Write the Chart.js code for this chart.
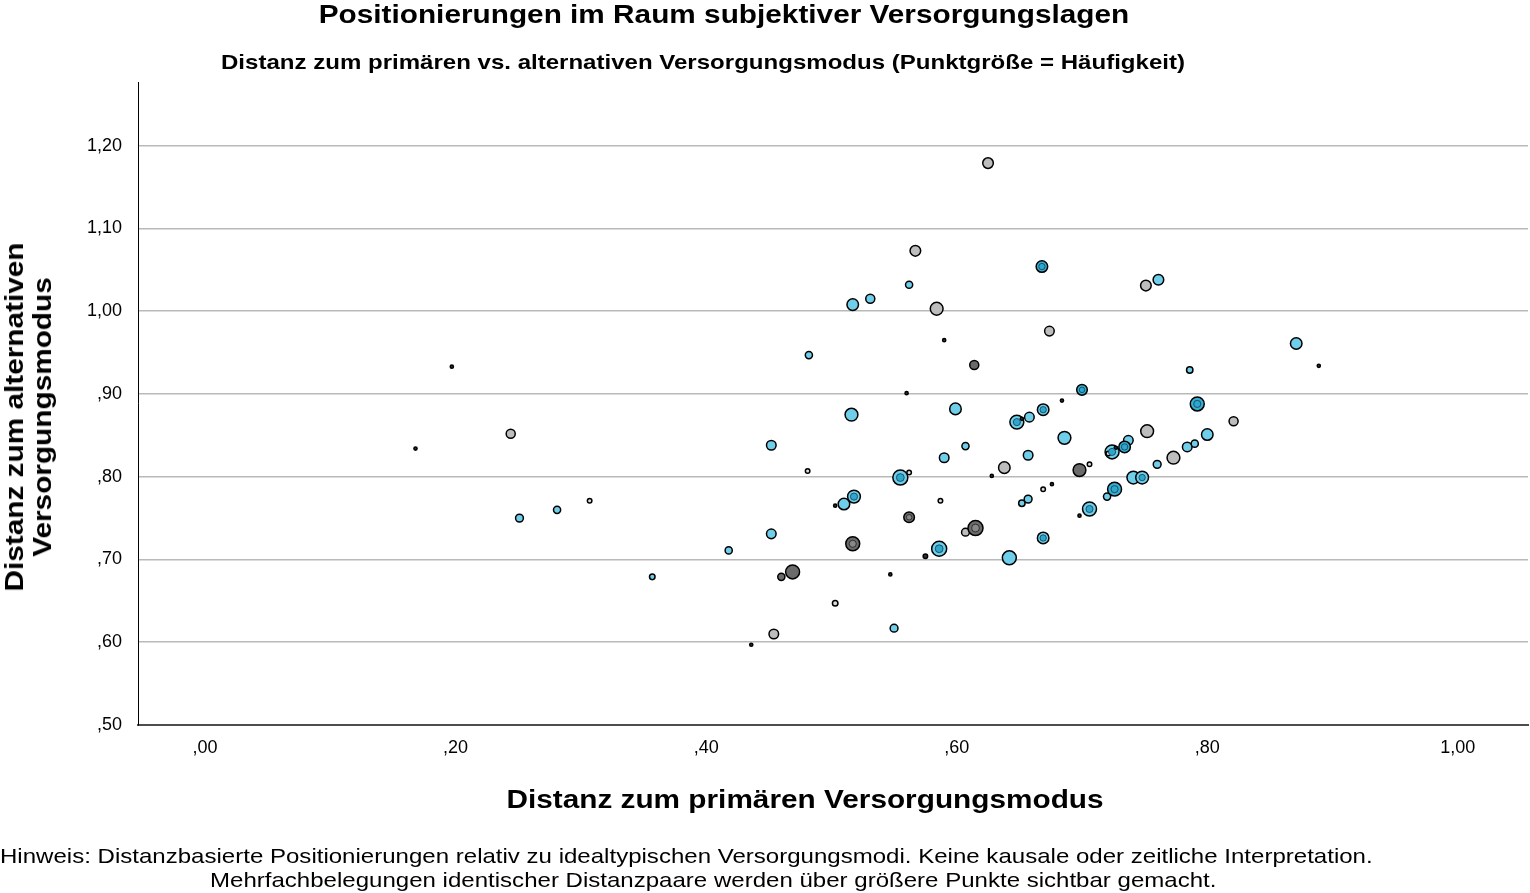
<!DOCTYPE html>
<html lang="de">
<head>
<meta charset="utf-8">
<title>Positionierungen im Raum subjektiver Versorgungslagen</title>
<script src="https://cdn.jsdelivr.net/npm/chart.js@4.4.1/dist/chart.umd.min.js"></script>
<style>
  html, body { margin: 0; padding: 0; background: #fff; }
  #wrap { position: relative; width: 1530px; height: 893px; overflow: hidden;
          font-family: "Liberation Sans", Arial, sans-serif; color: #000; }
  #bubbleChart { position: absolute; left: 0; top: 0; }
  /* die Vorlage nutzt eine breitere Schrift, daher leicht gestreckt */
  .txt { position: absolute; white-space: nowrap; text-align: center;
         transform: scaleX(1.145); transform-origin: 50% 50%; }
  #title { left: 224px; width: 1000px; top: -1px; font-size: 26px; line-height: 30px; font-weight: bold; }
  #subtitle { left: 203px; width: 1000px; top: 49px; font-size: 21px; line-height: 26px; font-weight: bold; }
  #xTitle { left: 405px; width: 800px; top: 783px; font-size: 26px; line-height: 32px; font-weight: bold; }
  #yTitle { left: -222px; width: 500px; top: 389px; height: 56px; font-size: 26px; line-height: 28px;
            font-weight: bold; transform: rotate(-90deg) scaleX(1.145); }
  .note { font-size: 21px; line-height: 24px; text-align: left; transform-origin: 0 50%; }
  #note1 { left: 0px; top: 844px; }
  #note2 { left: 210px; top: 868px; }
</style>
</head>
<body>
<div id="wrap">
  <canvas id="bubbleChart" width="1530" height="893"></canvas>
  <div class="txt" id="title">Positionierungen im Raum subjektiver Versorgungslagen</div>
  <div class="txt" id="subtitle">Distanz zum primären vs. alternativen Versorgungsmodus (Punktgröße = Häufigkeit)</div>
  <div class="txt" id="xTitle">Distanz zum primären Versorgungsmodus</div>
  <div class="txt" id="yTitle">Distanz zum alternativen<br>Versorgungsmodus</div>
  <div class="txt note" id="note1">Hinweis: Distanzbasierte Positionierungen relativ zu idealtypischen Versorgungsmodi. Keine kausale oder zeitliche Interpretation.</div>
  <div class="txt note" id="note2">Mehrfachbelegungen identischer Distanzpaare werden über größere Punkte sichtbar gemacht.</div>
</div>
<script>
// Achsen
const xTicks = [0, 0.2, 0.4, 0.6, 0.8, 1.0];
const yTicks = [0.5, 0.6, 0.7, 0.8, 0.9, 1.0, 1.1, 1.2];

// Positionen hellblau (x = primär, y = alternativ, n = Häufigkeit)
const cyanX = [0.251, 0.281, 0.357, 0.418, 0.452, 0.452, 0.482, 0.510, 0.518, 0.517, 0.516, 0.531, 0.550, 0.555,
               0.562, 0.586, 0.590, 0.599, 0.607, 0.642, 0.648, 0.652, 0.657, 0.657, 0.658, 0.669, 0.669, 0.686,
               0.706, 0.720, 0.724, 0.737, 0.741, 0.748, 0.760, 0.761, 0.784, 0.790, 0.786, 0.800, 0.871];
const cyanY = [0.750, 0.760, 0.679, 0.711, 0.838, 0.731, 0.947, 0.767, 0.776, 1.008, 0.875, 1.015, 0.617, 0.799,
               1.032, 0.713, 0.823, 0.882, 0.837, 0.702, 0.866, 0.768, 0.773, 0.826, 0.872, 0.881, 0.726, 0.847,
               0.761, 0.776, 0.830, 0.844, 0.799, 0.799, 0.815, 1.038, 0.836, 0.840, 0.929, 0.851, 0.961];
const cyanN = [6, 5, 3, 5, 9, 9, 5, 13, 16, 13, 16, 8, 6, 22,
               5, 22, 9, 13, 5, 19, 19, 4, 6, 9, 9, 13, 13, 16,
               19, 5, 19, 9, 16, 16, 6, 11, 9, 5, 4, 13, 13];

// Positionen dunkelblau
const blueX = [0.668, 0.700, 0.726, 0.734, 0.792];
const blueY = [1.054, 0.905, 0.785, 0.836, 0.888];
const blueN = [13, 11, 19, 13, 19];

// Positionen hellgrau
const greyX = [0.244, 0.454, 0.567, 0.584, 0.607, 0.625, 0.638, 0.674, 0.751, 0.752, 0.773, 0.821];
const greyY = [0.852, 0.610, 1.073, 1.003, 0.733, 1.179, 0.811, 0.976, 1.031, 0.855, 0.823, 0.867];
const greyN = [8, 9, 11, 16, 6, 11, 13, 9, 11, 16, 16, 8];

// Positionen dunkelgrau
const darkX = [0.469, 0.460, 0.517, 0.562, 0.614, 0.615, 0.698];
const darkY = [0.685, 0.679, 0.719, 0.751, 0.935, 0.738, 0.808];
const darkN = [19, 5, 19, 11, 8, 22, 16];

// Einzelne Positionen
const singleX = [0.168, 0.197, 0.436, 0.503, 0.547, 0.560, 0.590, 0.628, 0.684, 0.676, 0.698, 0.727, 0.889, 0.652, 0.575];
const singleY = [0.834, 0.933, 0.597, 0.765, 0.682, 0.901, 0.965, 0.801, 0.892, 0.791, 0.753, 0.835, 0.934, 0.870, 0.704];
const singleN = [1, 1, 1, 1, 1, 1, 1, 1, 1, 1, 1, 1, 1, 1, 2];

// Kleine Ringe
const ringX = [0.307, 0.481, 0.562, 0.587, 0.503, 0.706, 0.669, 0.721];
const ringY = [0.771, 0.807, 0.805, 0.771, 0.647, 0.815, 0.785, 0.828];
const ringN = [2, 2, 2, 2, 3, 2, 2, 2];

// Überlagerte Punkte (innerer Ring)
const innerBlueX = [0.518, 0.555, 0.586, 0.648, 0.669, 0.669, 0.706, 0.724, 0.748, 0.668, 0.700, 0.726, 0.734, 0.792];
const innerBlueY = [0.776, 0.799, 0.713, 0.866, 0.881, 0.726, 0.761, 0.830, 0.799, 1.054, 0.905, 0.785, 0.836, 0.888];
const innerBlueN = [5, 6, 6, 5, 4, 4, 5, 5, 4, 4, 3, 5, 4, 5];
const innerGreyX = [0.517, 0.562, 0.615];
const innerGreyY = [0.719, 0.751, 0.738];
const innerGreyN = [5, 3, 6];

// Punktgröße aus Häufigkeit
function bubbleRadius(n) {
  return 1.6 * Math.sqrt(n);
}

function toPoints(xs, ys, ns) {
  return xs.map((x, i) => ({ x: x, y: ys[i], r: bubbleRadius(ns[i]) }));
}

// Beschriftung im deutschen Format (,50 / 1,00)
function deLabel(v) {
  return v.toFixed(2).replace('.', ',').replace(/^0/, '');
}

const tickFont = { family: '"Liberation Sans", Arial, sans-serif', size: 18 };

let ctx = document.querySelector('#bubbleChart');
new Chart(ctx, {
  type: 'bubble',
  data: {
    datasets: [
      { label: 'innen blau', data: toPoints(innerBlueX, innerBlueY, innerBlueN),
        backgroundColor: '#2fa6cc', borderColor: 'rgba(20,60,80,0.8)', borderWidth: 1 },
      { label: 'innen grau', data: toPoints(innerGreyX, innerGreyY, innerGreyN),
        backgroundColor: '#888888', borderColor: 'rgba(30,30,30,0.8)', borderWidth: 1 },
      { label: 'einzeln', data: toPoints(singleX, singleY, singleN),
        backgroundColor: '#333333', borderColor: '#000', borderWidth: 1.5 },
      { label: 'ring', data: toPoints(ringX, ringY, ringN),
        backgroundColor: '#dcdcdc', borderColor: '#000', borderWidth: 1.5 },
      { label: 'dunkelblau', data: toPoints(blueX, blueY, blueN),
        backgroundColor: '#36aed3', borderColor: '#000', borderWidth: 1.5 },
      { label: 'hellblau', data: toPoints(cyanX, cyanY, cyanN),
        backgroundColor: '#6fcfea', borderColor: '#000', borderWidth: 1.5 },
      { label: 'dunkelgrau', data: toPoints(darkX, darkY, darkN),
        backgroundColor: '#6b6b6b', borderColor: '#000', borderWidth: 1.5 },
      { label: 'hellgrau', data: toPoints(greyX, greyY, greyN),
        backgroundColor: '#bdbdbd', borderColor: '#000', borderWidth: 1.5 }
    ]
  },
  options: {
    responsive: false,
    animation: false,
    events: [],
    layout: { autoPadding: false, padding: { top: 82, right: 2, left: 0, bottom: 0 } },
    plugins: {
      legend: { display: false },
      tooltip: { enabled: false }
    },
    scales: {
      x: {
        type: 'linear',
        min: -0.0535,
        max: 1.056,
        afterBuildTicks: (scale) => { scale.ticks = xTicks.map(v => ({ value: v })); },
        afterFit: (scale) => {
          scale.height = 168;
          scale.paddingLeft = 0;
          scale.paddingRight = 0;
        },
        grid: { display: false, drawTicks: false },
        border: { display: true, color: '#4d4d4d', width: 2 },
        ticks: { color: '#000', font: tickFont, padding: 12, maxRotation: 0, callback: (v) => deLabel(v) }
      },
      y: {
        type: 'linear',
        min: 0.5,
        max: 1.277,
        afterBuildTicks: (scale) => { scale.ticks = yTicks.map(v => ({ value: v })); },
        afterFit: (scale) => {
          scale.width = 138;
          scale.paddingTop = 0;
          scale.paddingBottom = 0;
        },
        grid: {
          drawTicks: false,
          lineWidth: 1.5,
          color: (c) => (c.tick && c.tick.value === 0.5) ? 'rgba(0,0,0,0)' : '#b9b9b9'
        },
        border: { display: true, color: '#000', width: 1 },
        ticks: { color: '#000', font: tickFont, padding: 16, callback: (v) => deLabel(v) }
      }
    }
  }
});
</script>
</body>
</html>
